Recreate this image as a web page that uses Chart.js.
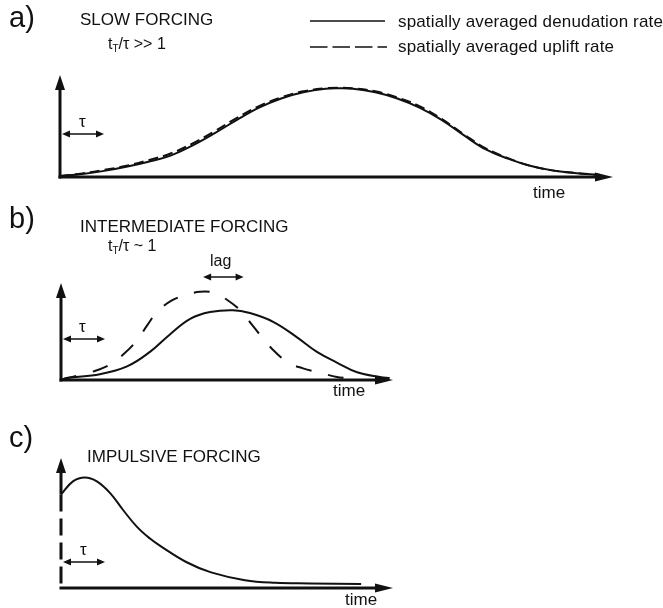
<!DOCTYPE html>
<html>
<head>
<meta charset="utf-8">
<script src="https://cdn.jsdelivr.net/npm/chart.js@4"></script>
<style>
body { margin: 0; background: #fff; }
#wrap { position: relative; width: 663px; height: 608px; overflow: hidden; font-family: "Liberation Sans", Arial, Helvetica, sans-serif; color: #111; }
canvas { position: absolute; left: 0; }
.lbl { position: absolute; line-height: 1; white-space: nowrap; }
.lbl sub { font-size: 10px; vertical-align: -3px; line-height: 0; }
</style>
</head>
<body>
<div id="wrap">
    <canvas id="chart-a" width="663" height="200" style="top:0px"></canvas>
    <canvas id="chart-b" width="663" height="205" style="top:200px"></canvas>
    <canvas id="chart-c" width="663" height="203" style="top:405px"></canvas>
</div>
<script>
// a) slow forcing
const aTime = [0, 4, 8, 12, 16, 20, 24, 28, 32, 36, 40, 44, 48, 50.3, 53, 57, 61, 65, 69, 73, 77, 81, 85, 89, 93, 97.7];
const aDenudation = [1, 3, 6, 10, 15, 21, 31, 43, 56, 68, 77, 83, 86.5, 87, 86.5, 83, 77, 68, 56, 41, 27, 18, 11, 6.5, 4, 2];
const aUplift = [1, 3.5, 7, 11, 16.5, 23, 33, 45, 58, 69.5, 78, 84, 87, 87.5, 87, 84, 78, 69.5, 57, 42, 28, 18.5, 11, 6.5, 4, 2];

// b) intermediate forcing
const bTime = [0, 1.8, 11.7, 19.9, 26.8, 32.8, 38.9, 44.9, 51.8, 56.9, 63.9, 71.1, 77.1, 83.1, 89.2, 96.1, 99];
const bDenudation = [0, 2, 6, 14, 29, 47, 63, 70, 72, 69, 60, 44, 29, 18, 8, 3, 2];
const bUpliftTime = [0, 1.8, 5.7, 10.8, 14.8, 19.3, 22.9, 25.9, 28.9, 33.4, 38, 41.9, 45.8, 50.3, 54.5, 57.5, 60.8, 63.9, 68.4, 72.9, 78.6, 83.1, 86];
const bUplift = [0, 2, 5, 10, 16, 28, 41, 56, 70, 82, 88, 91, 90, 82, 70, 57, 43, 31, 18, 12, 7, 3, 2];

// c) impulsive forcing
const cTime = [0, 3.6, 7.2, 10.8, 14.8, 18.7, 22.9, 26.8, 30.1, 37.7, 45.2, 55.4, 64.5, 75, 90.4];
const cDenudation = [72, 82, 85, 82, 73, 60, 47, 38, 32, 20, 12, 6, 4, 3.5, 3];
const cImpulseTime = [0, 0];
const cImpulse = [72, 0];

const legendLabels = ["spatially averaged denudation rate", "spatially averaged uplift rate"];

const ink = "#111";

function arrowHead(ctx, tipX, tipY, dirX, dirY, len, half) {
    const bx = tipX - dirX * len;
    const by = tipY - dirY * len;
    ctx.beginPath();
    ctx.moveTo(tipX, tipY);
    ctx.lineTo(bx - dirY * half, by + dirX * half);
    ctx.lineTo(bx + dirY * half, by - dirX * half);
    ctx.closePath();
    ctx.fill();
}

function doubleArrow(ctx, x1, x2, y) {
    ctx.lineWidth = 1.6;
    ctx.setLineDash([]);
    ctx.beginPath();
    ctx.moveTo(x1 + 4, y);
    ctx.lineTo(x2 - 4, y);
    ctx.stroke();
    arrowHead(ctx, x1, y, -1, 0, 8, 3.5);
    arrowHead(ctx, x2, y, 1, 0, 8, 3.5);
}

// axes with arrowheads, tau / lag markers and legend samples
const sketchAxes = {
    id: "sketchAxes",
    afterDatasetsDraw(chart, args, opts) {
        const ctx = chart.ctx;
        const area = chart.chartArea;
        const xs = chart.scales.x;
        const ys = chart.scales.y;

        ctx.save();
        ctx.strokeStyle = ink;
        ctx.fillStyle = ink;
        ctx.lineCap = "butt";

        ctx.lineWidth = 3;
        ctx.beginPath();
        ctx.moveTo(area.left, ys.getPixelForValue(opts.axisFrom || 0) + (opts.axisFrom ? 0 : 1.5));
        ctx.lineTo(area.left, area.top + 12);
        ctx.stroke();
        arrowHead(ctx, area.left, area.top, 0, -1, 15, 5);

        ctx.beginPath();
        ctx.moveTo(area.left - 1.5, area.bottom);
        ctx.lineTo(area.right - 14, area.bottom);
        ctx.stroke();
        arrowHead(ctx, area.right, area.bottom, 1, 0, 18, 4.5);

        doubleArrow(ctx, area.left + 2, area.left + 44, area.bottom - opts.tauRise);

        if (opts.lag) {
            doubleArrow(ctx, xs.getPixelForValue(opts.lag[0]), xs.getPixelForValue(opts.lag[1]), area.top - 6);
        }

        if (opts.legend) {
            ctx.lineWidth = 1.6;
            ctx.setLineDash([]);
            ctx.beginPath();
            ctx.moveTo(310, 21);
            ctx.lineTo(385, 21);
            ctx.stroke();
            ctx.setLineDash([17.5, 5]);
            ctx.beginPath();
            ctx.moveTo(310, 47);
            ctx.lineTo(387, 47);
            ctx.stroke();
        }
        ctx.restore();
    }
};

function series(times, values, dash, width, straight) {
    return {
        data: times.map((t, i) => ({ x: t, y: values[i] })),
        borderColor: ink,
        borderWidth: width || 2,
        borderDash: dash || [],
        pointRadius: 0,
        fill: false,
        clip: false,
        tension: straight ? 0 : 0.4
    };
}

function makeChart(id, datasets, padding, sketch) {
    const ctx = document.getElementById(id).getContext("2d");
    return new Chart(ctx, {
        type: "line",
        data: { datasets: datasets },
        options: {
            responsive: false,
            animation: false,
            events: [],
            layout: { padding: padding },
            scales: {
                x: { type: "linear", min: 0, max: 100, display: false },
                y: { min: 0, max: 100, display: false }
            },
            plugins: {
                legend: { display: false },
                tooltip: { enabled: false },
                sketchAxes: sketch
            }
        },
        plugins: [sketchAxes]
    });
}

makeChart("chart-a", [
    series(aTime, aDenudation, [], 2),
    series(aTime, aUplift, [10, 5], 2)
], { left: 60, right: 50, top: 75, bottom: 23 }, { tauRise: 43, legend: true });

makeChart("chart-b", [
    series(bTime, bDenudation, [], 2),
    series(bUpliftTime, bUplift, [16, 17], 2)
], { left: 61, right: 270, top: 83, bottom: 25 }, { tauRise: 41, lag: [42.8, 55] });

makeChart("chart-c", [
    series(cTime, cDenudation, [], 2),
    series(cImpulseTime, cImpulse, [17, 7], 3, true)
], { left: 61, right: 270, top: 53, bottom: 20 }, { tauRise: 26, axisFrom: cDenudation[0] });

// text, placed by baseline
const wrap = document.getElementById("wrap");
function label(html, x, baseline, size, spacing) {
    const el = document.createElement("div");
    el.className = "lbl";
    el.style.left = x + "px";
    el.style.top = (baseline - 0.8465 * size) + "px";
    el.style.fontSize = size + "px";
    if (spacing) el.style.letterSpacing = spacing + "px";
    el.innerHTML = html;
    wrap.appendChild(el);
}

label("a)", 9, 28, 29);
label("SLOW FORCING", 80, 25, 17);
label("t<sub>T</sub>/τ &gt;&gt; 1", 108, 50, 16);
label(legendLabels[0], 398, 27, 17, 0.15);
label(legendLabels[1], 398, 52, 17, 0.15);
label("τ", 79, 127, 17);
label("time", 533, 198, 17);

label("b)", 9, 229, 29);
label("INTERMEDIATE FORCING", 80, 232, 17);
label("t<sub>T</sub>/τ ~ 1", 108, 252, 16);
label("lag", 210, 267, 16);
label("τ", 79, 332, 17);
label("time", 333, 396, 17);

label("c)", 9, 448, 29);
label("IMPULSIVE FORCING", 87, 462, 17);
label("τ", 80, 555, 17);
label("time", 345, 605, 17);
</script>
</body>
</html>
